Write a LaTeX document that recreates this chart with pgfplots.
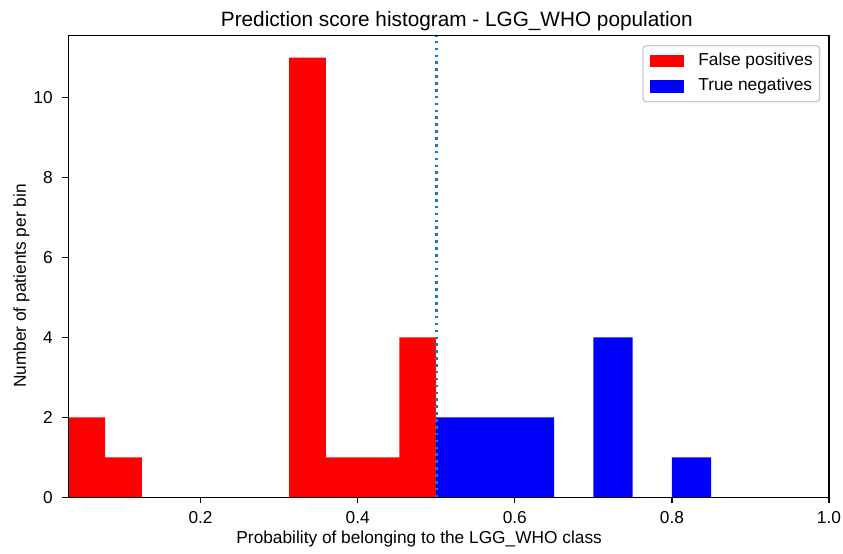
\documentclass[border=0pt]{standalone}
\usepackage{fontspec}
\setmainfont{Liberation Sans}
\usepackage{pgfplots}
\pgfplotsset{compat=1.18}
\definecolor{tabblue}{HTML}{1F77B4}
\begin{document}
\fontsize{10}{12}\selectfont
\begin{tikzpicture}
\begin{axis}[
  at={(0,0)}, anchor=south west,
  scale only axis, width=439.7pt, height=266.8pt,
  xmin=0.0316, xmax=1.0, ymin=0, ymax=11.55,
  xtick={0.2,0.4,0.6,0.8,1.0},
  xticklabels={0.2,0.4,0.6,0.8,1.0},
  ytick={0,2,4,6,8,10},
  yticklabels={0,2,4,6,8,10},
  axis on top,
  axis line style={line width=0.8pt},
  every tick/.style={black, line width=0.8pt},
  tick align=outside,
  major tick length=3.5pt,
  tick pos=left,
  /pgf/number format/assume math mode=true,
  ticklabel style={font=\fontsize{10}{12}\selectfont},
  xticklabel style={anchor=north, inner sep=0pt, text height=7.2pt, text depth=0pt, yshift=-4.4pt},
  yticklabel style={anchor=east, inner sep=0pt, text height=7.2pt, text depth=0pt, xshift=-5.3pt},
  legend style={at={(1,1)}, anchor=north east, xshift=-5pt, yshift=-5.4pt,
    draw=black!20, line width=0.8pt, fill=white,
    rounded corners=2pt, inner xsep=4pt, inner ysep=4pt, row sep=5pt,
    font=\fontsize{10}{12}\selectfont,
    nodes={inner sep=0pt, text height=7.2pt, text depth=2.5pt},
    /tikz/every odd column/.append style={column sep=8pt}},
  legend cell align=left,
]
\addplot[ybar interval, fill=red, draw=none,
  legend image code/.code={\fill[red, sharp corners] (0pt,-3.5pt) rectangle (20pt,3.5pt);}]
  coordinates {(0.0316,2) (0.0784,1) (0.1253,0) (0.1721,0) (0.2190,0) (0.2658,0)
               (0.3126,11) (0.3595,1) (0.4063,1) (0.4532,4) (0.5,0)};
\addlegendentry{False positives\hspace{3.5pt}}
\addplot[ybar interval, fill=blue, draw=none,
  legend image code/.code={\fill[blue, sharp corners] (0pt,-3.5pt) rectangle (20pt,3.5pt);}]
  coordinates {(0.5,2) (0.55,2) (0.6,2) (0.65,0) (0.7,4) (0.75,0) (0.8,1) (0.85,0)};
\addlegendentry{True negatives}
\addplot[tabblue, line width=1.5pt, dash pattern=on 1.5pt off 2.475pt, forget plot]
  coordinates {(0.5,0) (0.5,11.55)};
\end{axis}
\node[anchor=base, font=\fontsize{12}{14}\selectfont] at (224.6pt,272pt) {Prediction score histogram - LGG\_WHO population};
\node[anchor=base] at (202.8pt,-27pt) {Probability of belonging to the LGG\_WHO class};
\node[anchor=base, rotate=90] at (-24.5pt,122.1pt) {Number of patients per bin};
\path[use as bounding box] (-39.48pt,-30.46pt) rectangle (447.78pt,287.43pt);
\end{tikzpicture}
\end{document}
